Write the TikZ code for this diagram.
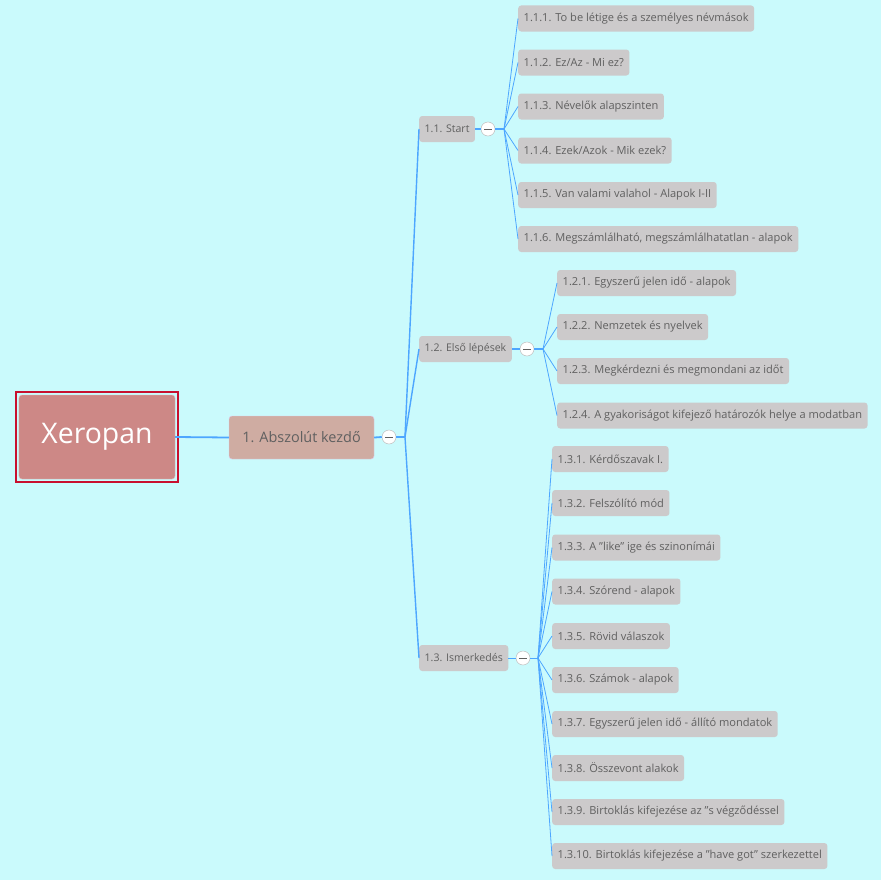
\documentclass[tikz,border=0pt]{standalone}
\usepackage{fontspec}
\setmainfont{Open Sans}
\definecolor{bg}{RGB}{202,250,252}
\definecolor{link}{RGB}{77,166,255}
\definecolor{rootfill}{RGB}{205,136,134}
\definecolor{rootedge}{RGB}{200,16,46}
\definecolor{absfill}{RGB}{207,172,162}
\definecolor{absedge}{RGB}{226,196,232}
\definecolor{leaffill}{RGB}{204,202,203}
\definecolor{leaftext}{RGB}{96,96,96}
\definecolor{foldedge}{RGB}{190,190,190}
\tikzset{
	root/.style={rectangle, rounded corners=3bp, fill=rootfill, draw=rootfill!60!white, text=white, minimum width=156bp, minimum height=84bp, font=\fontsize{28.5}{32}\selectfont},
	frame/.style={draw=rootedge, line width=2bp},
	topic/.style={rectangle, rounded corners=3bp, fill=absfill, draw=absedge, text=leaftext, minimum width=145bp, minimum height=43bp, font=\fontsize{14.5}{17}\selectfont},
	sub/.style={rectangle, rounded corners=3bp, fill=leaffill, text=leaftext, anchor=west, inner xsep=5.5bp, minimum height=26bp, font=\fontsize{10.6}{13}\selectfont},
	leaf/.style={sub, font=\fontsize{11.1}{13}\selectfont},
	fold/.style={circle, fill=white, draw=foldedge, line width=0.5bp, minimum size=14bp, inner sep=0pt, path picture={\draw[leaftext, line width=0.9bp] ([xshift=-4bp]path picture bounding box.center) -- ([xshift=4bp]path picture bounding box.center);}},
	main/.style={draw=link, line width=1.8bp},
	twig/.style={draw=link, line width=0.8bp}
}
\begin{document}
\begin{tikzpicture}[x=1bp, y=-1bp]
	\useasboundingbox[fill=bg] (0, 0) rectangle (881, 880);
	% centre
	\node[root] (root) at (97, 437) {Xeropan};
	\draw[frame] ([xshift=-2.5bp, yshift=2.5bp]root.north west) rectangle ([xshift=2.5bp, yshift=-2.5bp]root.south east);
	\node[topic] (abs) at (301.5, 437.5) {1. Abszolút kezdő};
	\node[fold] (fA) at (389, 437) {};
	\coordinate (jA) at (405, 437);
	\draw[main] (root.east) -- (abs.west);
	\draw[main] (abs.east) -- (fA.west);
	\draw[main] (fA.east) -- (jA);
	% second level
	\node[sub] (start) at (419, 129) {1.1. Start};
	\node[sub] (elso) at (419, 349) {1.2. Első lépések};
	\node[sub] (ism) at (419, 658) {1.3. Ismerkedés};
	\draw[main, line width=1.4bp] (jA) -- (start.west);
	\draw[main, line width=1.4bp] (jA) -- (elso.west);
	\draw[main, line width=1.4bp] (jA) -- (ism.west);
	\node[fold] (fS) at (488, 129) {};
	\node[fold] (fE) at (527, 349) {};
	\node[fold] (fI) at (523, 658) {};
	\coordinate (jS) at (504, 129);
	\coordinate (jE) at (543, 349);
	\coordinate (jI) at (538, 658);
	\draw[main, line width=1.4bp] (start.east) -- (fS.west);
	\draw[main, line width=1.4bp] (fS.east) -- (jS);
	\draw[main, line width=1.4bp] (elso.east) -- (fE.west);
	\draw[main, line width=1.4bp] (fE.east) -- (jE);
	\draw[twig] (ism.east) -- (fI.west);
	\draw[twig] (fI.east) -- (jI);
	% 1.1
	\node[leaf] (s1) at (518, 18.5) {1.1.1. To be létige és a személyes névmások};
	\node[leaf] (s2) at (518, 62.5) {1.1.2. Ez/Az - Mi ez?};
	\node[leaf] (s3) at (518, 106.5) {1.1.3. Névelők alapszinten};
	\node[leaf] (s4) at (518, 150.5) {1.1.4. Ezek/Azok - Mik ezek?};
	\node[leaf] (s5) at (518, 195) {1.1.5. Van valami valahol - Alapok I-II};
	\node[leaf] (s6) at (518, 239) {1.1.6. Megszámlálható, megszámlálhatatlan - alapok};
	\draw[twig] (jS) -- (s1.west);
	\draw[twig] (jS) -- (s2.west);
	\draw[twig] (jS) -- (s3.west);
	\draw[twig] (jS) -- (s4.west);
	\draw[twig] (jS) -- (s5.west);
	\draw[twig] (jS) -- (s6.west);
	% 1.2
	\node[leaf] (e1) at (557, 283) {1.2.1. Egyszerű jelen idő - alapok};
	\node[leaf] (e2) at (557, 327) {1.2.2. Nemzetek és nyelvek};
	\node[leaf] (e3) at (557, 371) {1.2.3. Megkérdezni és megmondani az időt};
	\node[leaf] (e4) at (557, 415.5) {1.2.4. A gyakoriságot kifejező határozók helye a modatban};
	\draw[twig] (jE) -- (e1.west);
	\draw[twig] (jE) -- (e2.west);
	\draw[twig] (jE) -- (e3.west);
	\draw[twig] (jE) -- (e4.west);
	% 1.3
	\node[leaf] (i1) at (552, 459) {1.3.1. Kérdőszavak I.};
	\node[leaf] (i2) at (552, 503) {1.3.2. Felszólító mód};
	\node[leaf] (i3) at (552, 547.5) {1.3.3. A \symbol{34}like\symbol{34} ige és szinonímái};
	\node[leaf] (i4) at (552, 591.5) {1.3.4. Szórend - alapok};
	\node[leaf] (i5) at (552, 636) {1.3.5. Rövid válaszok};
	\node[leaf] (i6) at (552, 680) {1.3.6. Számok - alapok};
	\node[leaf] (i7) at (552, 724) {1.3.7. Egyszerű jelen idő - állító mondatok};
	\node[leaf] (i8) at (552, 768) {1.3.8. Összevont alakok};
	\node[leaf] (i9) at (552, 812) {1.3.9. Birtoklás kifejezése az \symbol{34}s végződéssel};
	\node[leaf] (i10) at (552, 856) {1.3.10. Birtoklás kifejezése a \symbol{34}have got\symbol{34} szerkezettel};
	\draw[twig] (jI) -- (i1.west);
	\draw[twig] (jI) -- (i2.west);
	\draw[twig] (jI) -- (i3.west);
	\draw[twig] (jI) -- (i4.west);
	\draw[twig] (jI) -- (i5.west);
	\draw[twig] (jI) -- (i6.west);
	\draw[twig] (jI) -- (i7.west);
	\draw[twig] (jI) -- (i8.west);
	\draw[twig] (jI) -- (i9.west);
	\draw[twig] (jI) -- (i10.west);
\end{tikzpicture}
\end{document}
